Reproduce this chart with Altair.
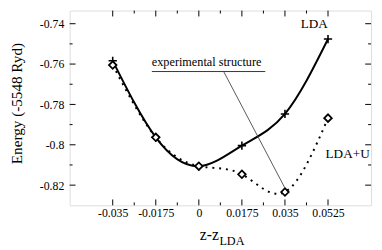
import altair as alt
import pandas as pd

# ---- data ----
x_vals = [-0.035, -0.0175, 0.0, 0.0175, 0.035, 0.0525]
lda_vals = [-0.7584, -0.7963, -0.8106, -0.8004, -0.7847, -0.7476]
ldau_vals = [-0.7605, -0.7963, -0.8106, -0.8146, -0.8234, -0.7868]

x_major = [-0.035, -0.0175, 0.0, 0.0175, 0.035, 0.0525]
x_minor = [-0.02625, -0.00875, 0.00875, 0.02625, 0.04375]
y_major = [-0.74, -0.76, -0.78, -0.80, -0.82]
y_minor = [-0.75, -0.77, -0.79, -0.81]

# annotation (data coordinates)
ann_text = ["experimental structure"]
ann_text_x = [-0.0191]
ann_text_y = [-0.7611]
underline_x = [-0.0191, 0.0270]
underline_y = [-0.7637]
pointer_x = [0.0101, 0.0349]
pointer_y = [-0.7637, -0.8212]
series_labels = ["LDA", "LDA+U"]
series_label_x = [0.0414, 0.0515]
series_label_y = [-0.7420, -0.8066]

W, H = 308, 199
FONT = "Liberation Serif"

xs = alt.Scale(domain=[-0.0525, 0.07], nice=False, zero=False)
ys = alt.Scale(domain=[-0.83, -0.7335], nice=False, zero=False)

df = pd.DataFrame({"x": x_vals, "lda": lda_vals, "ldau": ldau_vals})

x_axis = alt.Axis(values=x_major, labelExpr="toString(datum.value)", ticks=False,
                  domain=False, grid=False, title=None, labelFont=FONT,
                  labelFontSize=12, labelColor="black", labelPadding=2)
y_axis = alt.Axis(values=y_major, labelExpr="toString(datum.value)", ticks=False,
                  domain=False, grid=False, title=None, labelFont=FONT,
                  labelFontSize=12, labelColor="black", labelPadding=6)

base = alt.Chart(df)

lda_line = base.mark_line(interpolate="natural", color="black", strokeWidth=2).encode(
    x=alt.X("x:Q", scale=xs, axis=x_axis),
    y=alt.Y("lda:Q", scale=ys, axis=y_axis),
)
ldau_line = base.mark_line(interpolate="natural", color="black", strokeWidth=2,
                           strokeDash=[2, 5]).encode(
    x=alt.X("x:Q", scale=xs), y=alt.Y("ldau:Q", scale=ys))

plus_path = "M-1,0H1M0,-1V1"
lda_pts = base.mark_point(shape=plus_path, size=72, color="black", strokeWidth=1.6,
                          opacity=1).encode(
    x=alt.X("x:Q", scale=xs), y=alt.Y("lda:Q", scale=ys))
ldau_pts = base.mark_point(shape="diamond", size=60, stroke="black", fill="white",
                           filled=True, strokeWidth=1.8, opacity=1).encode(
    x=alt.X("x:Q", scale=xs), y=alt.Y("ldau:Q", scale=ys))

pointer = alt.Chart(pd.DataFrame({"x": [pointer_x[0]], "x2": [pointer_x[1]],
                                  "y": [pointer_y[0]], "y2": [pointer_y[1]]})).mark_rule(
    color="#444", strokeWidth=0.9).encode(
    x=alt.X("x:Q", scale=xs), x2="x2:Q", y=alt.Y("y:Q", scale=ys), y2="y2:Q")
underline = alt.Chart(pd.DataFrame({"x": [underline_x[0]], "x2": [underline_x[1]],
                                    "y": underline_y})).mark_rule(
    color="#333", strokeWidth=1).encode(
    x=alt.X("x:Q", scale=xs), x2="x2:Q", y=alt.Y("y:Q", scale=ys))
ann = alt.Chart(pd.DataFrame({"t": ann_text, "x": ann_text_x, "y": ann_text_y})).mark_text(
    font=FONT, fontSize=12.5, align="left", baseline="alphabetic", color="black").encode(
    x=alt.X("x:Q", scale=xs), y=alt.Y("y:Q", scale=ys), text="t:N")
slabels = alt.Chart(pd.DataFrame({"t": series_labels, "x": series_label_x,
                                  "y": series_label_y})).mark_text(
    font=FONT, fontSize=13.5, align="left", baseline="alphabetic", color="black").encode(
    x=alt.X("x:Q", scale=xs), y=alt.Y("y:Q", scale=ys), text="t:N")

def xticks(vals, length):
    d = pd.DataFrame({"v": vals})
    bot = alt.Chart(d).mark_rule(color="black", strokeWidth=1).encode(
        x=alt.X("v:Q", scale=xs), y=alt.value(H), y2=alt.value(H - length))
    top = alt.Chart(d).mark_rule(color="black", strokeWidth=1).encode(
        x=alt.X("v:Q", scale=xs), y=alt.value(0), y2=alt.value(length))
    return [bot, top]

def yticks(vals, length):
    d = pd.DataFrame({"v": vals})
    left = alt.Chart(d).mark_rule(color="black", strokeWidth=1).encode(
        y=alt.Y("v:Q", scale=ys), x=alt.value(0), x2=alt.value(length))
    right = alt.Chart(d).mark_rule(color="black", strokeWidth=1).encode(
        y=alt.Y("v:Q", scale=ys), x=alt.value(W), x2=alt.value(W - length))
    return [left, right]

ticks = xticks(x_major, 6) + xticks(x_minor, 3) + yticks(y_major, 6) + yticks(y_minor, 3)

ytitle = alt.Chart(pd.DataFrame({"t": ["Energy  (-5548 Ryd)"]})).mark_text(
    font=FONT, fontSize=15.5, angle=270, align="center", baseline="middle",
    color="black").encode(x=alt.value(-54), y=alt.value(95), text="t:N")
xtitle_main = alt.Chart(pd.DataFrame({"t": ["z-z"]})).mark_text(
    font=FONT, fontSize=16, align="left", baseline="alphabetic", color="black").encode(
    x=alt.value(133), y=alt.value(234), text="t:N")
xtitle_sub = alt.Chart(pd.DataFrame({"t": ["LDA"]})).mark_text(
    font=FONT, fontSize=12.5, align="left", baseline="alphabetic", color="black").encode(
    x=alt.value(153), y=alt.value(240), text="t:N")

chart = alt.layer(
    lda_line, ldau_line, pointer, underline, ann, slabels, lda_pts, ldau_pts,
    *ticks, ytitle, xtitle_main, xtitle_sub
).properties(
    width=W, height=H,
    autosize=alt.AutoSizeParams(type="none"),
    padding={"left": 63, "top": 0, "right": 3, "bottom": 43},
).configure_view(stroke="black", strokeWidth=1).configure(background="white")

chart.save("out.html", embed_options={"renderer": "svg", "actions": False})
